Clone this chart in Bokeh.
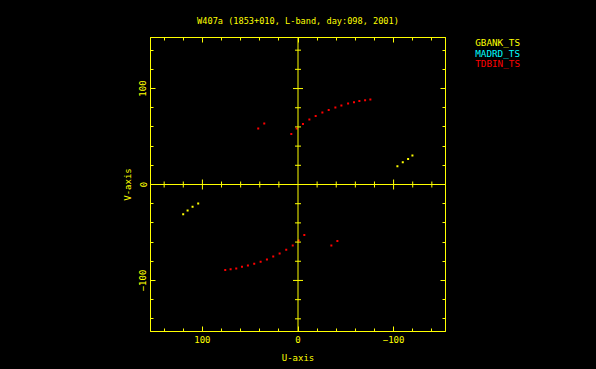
import math
import re
from bokeh.plotting import figure
from bokeh.layouts import row
from bokeh.models import (Range1d, LinearAxis, FixedTicker, Span, Title, ColumnDataSource)
from bokeh.core.properties import value
from bokeh.embed import file_html
from bokeh.resources import INLINE

# ---- data ----
title_text = "W407a (1853+010, L-band, day:098, 2001)"
x_label = "U-axis"
y_label = "V-axis"
series_names = ["GBANK_TS", "MADRD_TS", "TDBIN_TS"]
series_colors = ["#ffff00", "#00ffff", "#ff0000"]

gbank_u = [-104.0, -109.6, -115.2, -119.7, 120.1, 115.5, 110.3, 104.4]
gbank_v = [19.0, 23.2, 26.7, 30.2, -31.0, -27.1, -23.3, -19.8]

madrd_u = []
madrd_v = []

tdbin_u = [-5.2, -11.9, -18.5, -25.5, -32.1, -39.1, -45.4, -52.4, -58.6, -64.2, -70.2, -75.7,
           1.4, 7.0, 35.3, 41.6,
           76.1, 70.5, 64.6, 58.6, 52.4, 45.8, 39.1, 32.5, 25.9, 19.2, 12.3, 5.5, -0.7,
           -6.6, -41.2, -34.9]
tdbin_v = [63.1, 67.7, 71.5, 75.0, 77.7, 80.2, 82.3, 84.4, 85.7, 87.1, 87.8, 88.5,
           58.3, 52.7, 63.5, 58.3,
           -89.0, -88.2, -87.5, -85.8, -84.4, -82.7, -80.6, -78.1, -75.0, -71.9, -68.1, -63.5, -58.3,
           -52.5, -59.0, -63.5]

major_ticks = [-100, 0, 100]
minor_ticks = [-140, -120, -100, -80, -60, -40, -20, 0, 20, 40, 60, 80, 100, 120, 140]
x_limits = (154.3, -154.3)
y_limits = (-153.2, 153.2)

# ---- styling ----
FG = "#ffff00"
FONT = "DejaVu Sans Mono"
MAIN_W = 460
TOTAL_W = 596
H = 369
FRAME_TOP, FRAME_BOTTOM = 37, 331

p = figure(width=MAIN_W, height=H, output_backend="svg", toolbar_location=None,
           x_range=Range1d(*x_limits), y_range=Range1d(*y_limits),
           x_axis_location=None, y_axis_location=None,
           min_border_left=150, min_border_right=MAIN_W - 445,
           min_border_top=FRAME_TOP, min_border_bottom=H - FRAME_BOTTOM)
p.background_fill_color = "black"
p.border_fill_color = "black"
p.outline_line_color = FG
p.grid.visible = False

p.title.text = title_text
p.title.align = "center"
p.title.vertical_align = "top"
p.title.text_color = FG
p.title.text_font = FONT
p.title.text_font_size = "8.6px"
p.title.text_font_style = "normal"
p.title.standoff = 19


def make_axis(show_labels):
    ax = LinearAxis(ticker=FixedTicker(ticks=major_ticks, minor_ticks=minor_ticks))
    ax.axis_line_color = FG
    ax.major_tick_line_color = FG
    ax.minor_tick_line_color = FG
    ax.major_tick_in = 5
    ax.major_tick_out = 0
    ax.minor_tick_in = 3
    ax.minor_tick_out = 0
    ax.major_label_text_color = FG
    ax.major_label_text_font = FONT
    ax.major_label_text_font_size = "9px"
    ax.major_label_standoff = 4
    if not show_labels:
        ax.major_label_overrides = {t: "" for t in major_ticks}
        ax.major_label_standoff = 0
    return ax


bottom = make_axis(True)
left = make_axis(True)
left.major_label_orientation = "vertical"
top = make_axis(False)
right = make_axis(False)
p.add_layout(bottom, "below")
p.add_layout(left, "left")
p.add_layout(top, "above")
p.add_layout(right, "right")

p.add_layout(Title(text=x_label, align="center", text_color=FG, text_font=FONT,
                   text_font_size="9px", text_font_style="normal", standoff=10.5), "below")
p.add_layout(Title(text=y_label, align="center", text_color=FG, text_font=FONT,
                   text_font_size="9px", text_font_style="normal", standoff=7), "left")

# zero lines with ticks on both sides
p.add_layout(Span(location=0, dimension="height", line_color=FG, line_width=1))
p.add_layout(Span(location=0, dimension="width", line_color=FG, line_width=1))
minor_nz = [t for t in minor_ticks if t not in major_ticks]
major_nz = [t for t in major_ticks if t != 0]
p.scatter(minor_nz, [0] * len(minor_nz), marker="dash", angle=math.pi / 2, size=6, line_color=FG)
p.scatter(major_nz, [0] * len(major_nz), marker="dash", angle=math.pi / 2, size=10, line_color=FG)
p.scatter([0] * len(minor_nz), minor_nz, marker="dash", size=6, line_color=FG)
p.scatter([0] * len(major_nz), major_nz, marker="dash", size=10, line_color=FG)

# data points
for us, vs, col in [(gbank_u, gbank_v, series_colors[0]),
                    (madrd_u, madrd_v, series_colors[1]),
                    (tdbin_u, tdbin_v, series_colors[2])]:
    if us:
        p.scatter(us, vs, marker="square", size=2, fill_color=col, line_color=None)

# legend panel: a small figure whose frame is aligned with the main one;
# its ranges are set so that one unit is one canvas pixel
leg = figure(width=TOTAL_W - MAIN_W, height=H, output_backend="svg", toolbar_location=None,
             x_range=Range1d(MAIN_W, TOTAL_W), y_range=Range1d(FRAME_BOTTOM, FRAME_TOP),
             x_axis_location=None, y_axis_location=None, title=None,
             min_border_left=0, min_border_right=0,
             min_border_top=FRAME_TOP, min_border_bottom=H - FRAME_BOTTOM)
leg.background_fill_color = "black"
leg.border_fill_color = "black"
leg.outline_line_color = None
leg.grid.visible = False
leg_src = ColumnDataSource(dict(
    x=[474.7] * len(series_names),
    y=[42.3 + 10.5 * i for i in range(len(series_names))],
    text=series_names, color=series_colors))
leg.text(x="x", y="y", text="text", text_color="color", source=leg_src,
         text_font=value(FONT), text_font_size="9.3px",
         text_align="left", text_baseline="middle")

layout = row(p, leg, spacing=0, styles={"background-color": "black"})
html = file_html(layout, INLINE)
html = re.sub(r"<body([^>]*)>", r'<body\1 style="background-color:#000">', html, count=1)
html = re.sub(r"<html([^>]*)>", r'<html\1 style="background-color:#000">', html, count=1)
open("out.html", "w").write(html)
